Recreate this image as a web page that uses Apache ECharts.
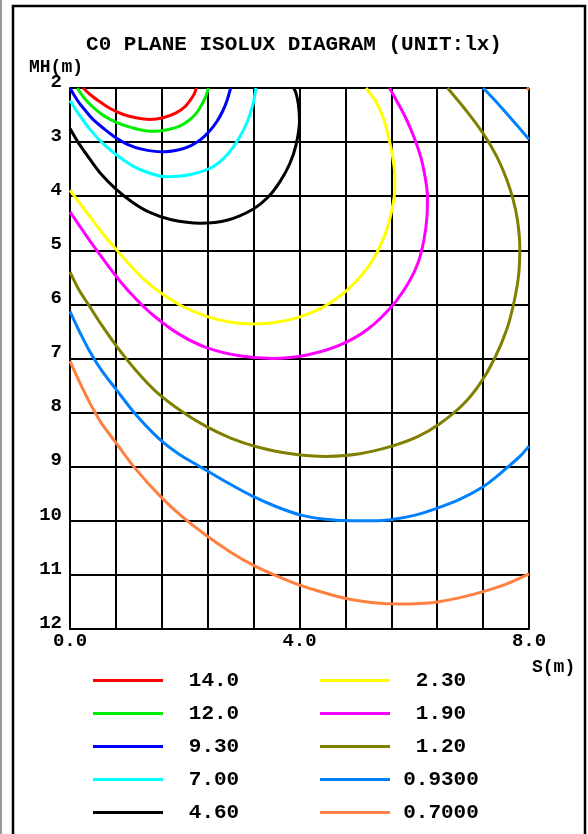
<!DOCTYPE html>
<html>
<head>
<meta charset="utf-8">
<script src="https://cdn.jsdelivr.net/npm/echarts@6/dist/echarts.min.js"></script>
<style>
html,body{margin:0;padding:0;background:#fff;}
#main{width:588px;height:834px;}
</style>
</head>
<body>
<div id="main"></div>
<script>
// isolux levels (legend order) and their colours
var levels = ['14.0', '12.0', '9.30', '7.00', '4.60', '2.30', '1.90', '1.20', '0.9300', '0.7000'];
var colors = ['#ff0000', '#00ee00', '#0000ff', '#00ffff', '#000000', '#ffff00', '#ff00ff', '#808000', '#0080ff', '#ff8040'];

// contour points [S(m), MH(m)], one array per segment
var c14 = [[[0.23,2.0],[0.35,2.12],[0.5,2.24],[0.7,2.38],[0.93,2.49],[1.15,2.55],[1.39,2.58],[1.62,2.55],[1.85,2.46],[2.0,2.35],[2.1,2.22],[2.17,2.1],[2.2,2.0]]];
var c12 = [[[0.13,2.0],[0.2,2.12],[0.3,2.25],[0.45,2.4],[0.6,2.52],[0.8,2.63],[1.0,2.71],[1.22,2.77],[1.45,2.8],[1.7,2.77],[1.9,2.71],[2.07,2.6],[2.2,2.47],[2.3,2.3],[2.37,2.15],[2.41,2.0]]];
var c930 = [[[0.0,2.0],[0.07,2.13],[0.15,2.26],[0.27,2.42],[0.4,2.58],[0.6,2.76],[0.8,2.92],[1.0,3.04],[1.25,3.13],[1.6,3.18],[1.9,3.14],[2.1,3.07],[2.27,2.96],[2.43,2.8],[2.56,2.62],[2.66,2.43],[2.74,2.22],[2.8,2.0]]];
var c700 = [[[0.0,2.23],[0.15,2.48],[0.35,2.77],[0.6,3.05],[0.93,3.33],[1.25,3.52],[1.68,3.64],[2.1,3.6],[2.5,3.45],[2.75,3.22],[2.95,2.92],[3.1,2.6],[3.19,2.3],[3.24,2.0]]];
var c460 = [[[0.0,2.75],[0.15,3.02],[0.35,3.32],[0.55,3.6],[0.81,3.88],[1.1,4.12],[1.39,4.3],[1.75,4.43],[2.27,4.5],[2.75,4.44],[3.19,4.24],[3.45,4.02],[3.66,3.73],[3.83,3.4],[3.94,3.05],[4.0,2.6],[3.98,2.3],[3.94,2.1],[3.9,2.0]]];
var c230 = [[[0.0,3.89],[0.2,4.17],[0.4,4.45],[0.6,4.73],[0.81,4.99],[1.05,5.28],[1.3,5.55],[1.6,5.8],[1.95,6.03],[2.38,6.22],[2.8,6.33],[3.2,6.36],[3.6,6.33],[4.01,6.23],[4.38,6.07],[4.7,5.85],[4.98,5.58],[5.2,5.3],[5.38,4.98],[5.52,4.62],[5.61,4.25],[5.66,3.9],[5.66,3.6],[5.62,3.25],[5.55,2.9],[5.46,2.55],[5.33,2.25],[5.16,2.0]]];
var c190 = [[[0.0,4.29],[0.2,4.6],[0.41,4.92],[0.64,5.25],[0.88,5.58],[1.15,5.9],[1.45,6.2],[1.9,6.55],[2.38,6.8],[2.95,6.95],[3.54,7.0],[4.15,6.93],[4.71,6.75],[5.2,6.45],[5.62,6.02],[5.9,5.6],[6.07,5.22],[6.17,4.8],[6.22,4.4],[6.23,4.0],[6.19,3.65],[6.12,3.3],[6.0,2.92],[5.85,2.55],[5.7,2.25],[5.57,2.0]]];
var c120 = [[[0.0,5.4],[0.15,5.72],[0.35,6.05],[0.55,6.38],[0.81,6.77],[1.15,7.22],[1.51,7.62],[1.95,7.98],[2.38,8.26],[2.8,8.47],[3.25,8.63],[3.85,8.76],[4.47,8.81],[5.05,8.76],[5.58,8.63],[6.05,8.45],[6.45,8.2],[6.85,7.85],[7.15,7.46],[7.4,7.0],[7.61,6.47],[7.74,5.95],[7.82,5.45],[7.84,4.95],[7.8,4.45],[7.72,4.05],[7.6,3.66],[7.43,3.25],[7.2,2.84],[6.93,2.45],[6.58,2.0]]];
var c093 = [[[0.0,6.13],[0.15,6.47],[0.35,6.88],[0.55,7.22],[0.81,7.58],[1.15,8.04],[1.54,8.47],[1.9,8.77],[2.27,9.0],[2.7,9.27],[3.19,9.55],[3.6,9.74],[4.01,9.89],[4.45,9.97],[4.94,10.0],[5.3,10.0],[5.64,9.97],[6.0,9.9],[6.39,9.77],[6.8,9.6],[7.2,9.37],[7.45,9.17],[7.67,8.97],[7.85,8.8],[8.0,8.62]],
            [[7.2,2.0],[7.4,2.22],[7.61,2.47],[7.8,2.7],[8.0,2.95]]];
var c070 = [[[0.0,7.05],[0.15,7.4],[0.35,7.83],[0.55,8.2],[0.81,8.57],[1.15,9.05],[1.55,9.52],[1.95,9.92],[2.4,10.29],[2.8,10.58],[3.19,10.82],[3.6,11.02],[4.0,11.19],[4.4,11.32],[4.79,11.43],[5.25,11.51],[5.75,11.54],[6.1,11.53],[6.4,11.5],[6.8,11.42],[7.2,11.31],[7.6,11.17],[8.0,10.98]],
            [[7.96,2.0],[8.0,2.03]]];
var curves = [c14, c12, c930, c700, c460, c230, c190, c120, c093, c070];

// axis ticks
var sMin = 0, sMax = 8, sStep = 0.8;
var hMin = 2, hMax = 12, hStep = 1;

var font = 'Liberation Mono';
var myChart = echarts.init(document.getElementById('main'));

var series = [];
for (var i = 0; i < levels.length; i++) {
	var data = [];
	for (var j = 0; j < curves[i].length; j++) {
		if (j > 0) data.push('-');
		data = data.concat(curves[i][j]);
	}
	series.push({
		name: levels[i], type: 'line', data: data, smooth: 0.3, showSymbol: false, symbol: 'none',
		lineStyle: {color: colors[i], width: 3}, itemStyle: {color: colors[i]}, connectNulls: false
	});
}

function legendOf(names, left) {
	return {
		data: names, orient: 'vertical', left: left, top: 665, itemWidth: 70, itemHeight: 3, itemGap: 12,
		icon: 'rect', selectedMode: false,
		formatter: '{t|{name}}',
		textStyle: {rich: {t: {width: 92, align: 'center', fontFamily: font, fontWeight: 'bold', fontSize: 21, lineHeight: 21, color: '#000'}}}
	};
}

var option = {
	animation: false,
	backgroundColor: '#fff',
	color: colors,
	title: [
		{text: 'C0 PLANE ISOLUX DIAGRAM (UNIT:lx)', left: 'center', top: 29,
			textStyle: {fontFamily: font, fontWeight: 'bold', fontSize: 21, color: '#000'}},
		{text: 'MH(m)', left: 24, top: 53, textStyle: {fontFamily: font, fontWeight: 'bold', fontSize: 18, color: '#000'}},
		{text: 'S(m)', left: 527, top: 653, textStyle: {fontFamily: font, fontWeight: 'bold', fontSize: 18, color: '#000'}}
	],
	legend: [legendOf(levels.slice(0, 5), 88), legendOf(levels.slice(5), 315)],
	grid: {left: 70, right: 59, top: 88, bottom: 205, containLabel: false},
	xAxis: {
		type: 'value', min: sMin, max: sMax, interval: sStep,
		axisLine: {show: true, lineStyle: {color: '#000', width: 2}},
		axisTick: {show: false},
		splitLine: {show: true, lineStyle: {color: '#000', width: 2}},
		axisLabel: {
			fontFamily: font, fontWeight: 'bold', fontSize: 19, color: '#000', margin: 3,
			showMinLabel: true, showMaxLabel: true,
			formatter: function (v) {
				return Math.abs(v / 4 - Math.round(v / 4)) < 1e-6 ? v.toFixed(1) : '';
			}
		}
	},
	yAxis: {
		type: 'value', inverse: true, min: hMin, max: hMax, interval: hStep,
		axisLine: {show: true, lineStyle: {color: '#000', width: 2}},
		axisTick: {show: false},
		splitLine: {show: true, lineStyle: {color: '#000', width: 2}},
		axisLabel: {fontFamily: font, fontWeight: 'bold', fontSize: 19, color: '#000', margin: 8, verticalAlign: 'bottom', lineHeight: 12}
	},
	graphic: [
		{type: 'rect', shape: {x: 13, y: 6, width: 572, height: 900}, style: {fill: 'none', stroke: '#000', lineWidth: 2.5}, silent: true},
		{type: 'line', shape: {x1: 1, y1: 0, x2: 1, y2: 834}, style: {stroke: '#999', lineWidth: 2}, silent: true}
	],
	series: series
};
myChart.setOption(option, true);
</script>
</body>
</html>
